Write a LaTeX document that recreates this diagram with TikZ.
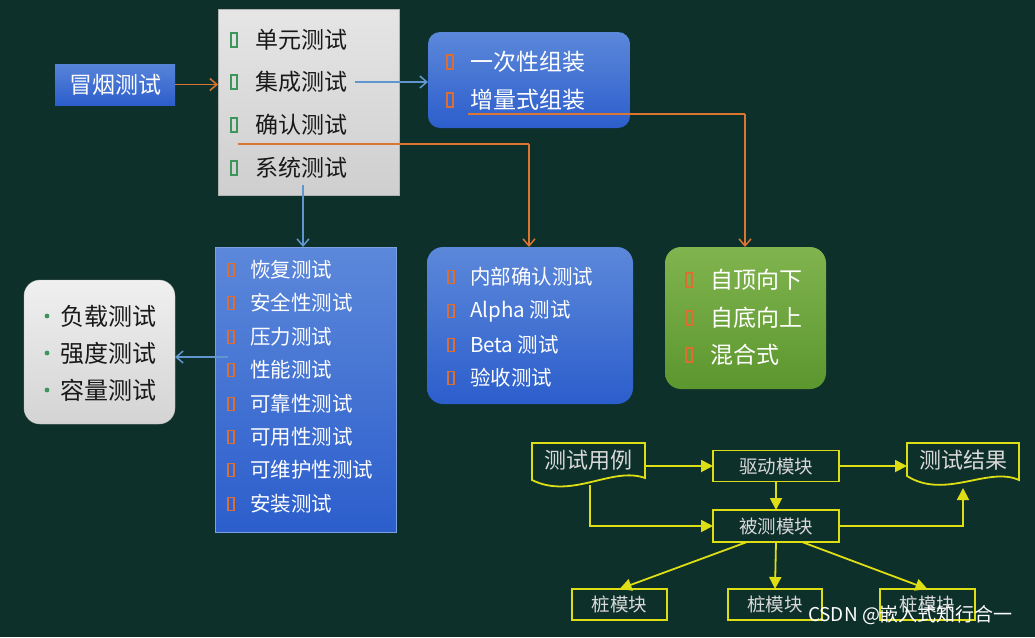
\documentclass[tikz,border=0pt]{standalone}
\usepackage{fontspec}
\newfontfamily\cjk{Noto Sans CJK SC}
\usetikzlibrary{arrows.meta}
\definecolor{bg}{RGB}{14,48,42}
\definecolor{oline}{RGB}{218,118,48}
\definecolor{bline}{RGB}{96,150,205}
\definecolor{yl}{RGB}{222,222,20}
\definecolor{btop}{RGB}{92,136,218}
\definecolor{bbot}{RGB}{44,94,204}
\definecolor{gtop}{RGB}{128,180,78}
\definecolor{gbot}{RGB}{92,150,46}
\definecolor{bultg}{RGB}{60,150,90}
\definecolor{bulto}{RGB}{220,110,50}
\tikzset{
  base/.style={inner sep=0pt, outer sep=0pt},
  item/.style={base, anchor=west, font=\cjk\fontsize{23}{27}\selectfont},
  sitem/.style={base, anchor=west, font=\cjk\fontsize{20.5}{24}\selectfont, text=white},
  oarrow/.style={draw=oline, line width=1.5pt, -{Straight Barb[length=7pt,width=12pt,line width=1.5pt]}},
  barrow/.style={draw=bline, line width=1.5pt, -{Straight Barb[length=7pt,width=12pt,line width=1.5pt]}},
  oplain/.style={draw=oline, line width=1.5pt},
  yarrow/.style={draw=yl, line width=1.8pt, -{Triangle[length=12pt,width=12pt]}},
  ybox/.style={base, draw=yl, line width=1.8pt, fill=bg, text=black!15, font=\cjk\fontsize{18.5}{22}\selectfont},
  ytext/.style={base, text=black!15, font=\cjk\fontsize{22}{26}\selectfont},
  gbul/.style={draw=bultg, line width=1.6pt},
  obul/.style={draw=bulto, line width=1.6pt},
}
\begin{document}
\begin{tikzpicture}[x=1pt,y=-1pt]
\fill[bg] (0,0) rectangle (1035,637);
\useasboundingbox (0,0) rectangle (1035,637);

% smoke test
\node[base, top color=btop!90!bbot, bottom color=bbot, minimum width=120pt, minimum height=41pt, text=white, font=\cjk\fontsize{23}{27}\selectfont] (smoke) at (115,84.5) {冒烟测试};

% gray box
\node[base, draw=black!30, top color=black!10, bottom color=black!19, minimum width=181pt, minimum height=186pt] (gray) at (308.5,102) {};
\node[item, text=black!90] (g1) at (255,40) {单元测试};
\node[item, text=black!90] (g2) at (255,82) {集成测试};
\node[item, text=black!90] (g3) at (255,125) {确认测试};
\node[item, text=black!90] (g4) at (255,168) {系统测试};
\foreach \y in {40,82,125,168} {\draw[gbul] (231,\y-7) rectangle (237,\y+7);}

% blue box 1
\node[base, rounded corners=12pt, top color=btop, bottom color=bbot, minimum width=202pt, minimum height=96pt] (b1) at (529,80) {};
\node[item, text=white] (b1a) at (470,62) {一次性组装};
\node[item, text=white] (b1b) at (470,100) {增量式组装};
\foreach \y in {62,100} {\draw[obul] (447,\y-7) rectangle (453,\y+7);}

% blue list box
\node[base, draw=btop!80!white, top color=btop, bottom color=bbot, minimum width=181pt, minimum height=285pt] (bl) at (305.5,389.5) {};
\foreach \t/\y/\n in {恢复测试/270/1,安全性测试/303/2,压力测试/337/3,性能测试/370/4,可靠性测试/404/5,可用性测试/437/6,可维护性测试/470/7,安装测试/504/8}{
  \node[sitem] (l\n) at (250,\y) {\t};
  \draw[obul] (228,\y-6.5) rectangle (234,\y+6.5);
}

% gray rounded box
\node[base, draw=black!25, rounded corners=16pt, top color=black!6, bottom color=black!17, minimum width=151pt, minimum height=144pt] (gr) at (99.5,352) {};
\node[item, text=black!90, font=\cjk\fontsize{24}{28}\selectfont] (r1) at (60,316) {负载测试};
\node[item, text=black!90, font=\cjk\fontsize{24}{28}\selectfont] (r2) at (60,353) {强度测试};
\node[item, text=black!90, font=\cjk\fontsize{24}{28}\selectfont] (r3) at (60,390) {容量测试};
\foreach \y in {316,353,390} {\fill[bultg] (47,\y) circle (2.4);}

% blue box 2
\node[base, rounded corners=16pt, top color=btop, bottom color=bbot, minimum width=206pt, minimum height=157pt] (b2) at (530,325.5) {};
\foreach \t/\y/\n in {内部确认测试/277/1,Alpha 测试/311/2,Beta 测试/345/3,验收测试/378/4}{
  \node[sitem] (c\n) at (470,\y) {\t};
  \draw[obul] (448,\y-6.5) rectangle (454,\y+6.5);
}

% green box
\node[base, rounded corners=16pt, top color=gtop, bottom color=gbot, minimum width=161pt, minimum height=142pt] (gb) at (745.5,318) {};
\node[item, text=white] (e1) at (710,280) {自顶向下};
\node[item, text=white] (e2) at (710,318) {自底向上};
\node[item, text=white] (e3) at (710,355) {混合式};
\foreach \y in {280,318,355} {\draw[obul] (686,\y-7) rectangle (692,\y+7);}

% connectors (top part)
\draw[oarrow] (smoke.east) -- (gray.west |- smoke.east);
\coordinate (g2e) at (355,82);
\draw[barrow] (g2e) -- (b1.west |- g2e);
\coordinate (b1u) at (468,114);
\draw[oplain] (b1u) -- (745,114);
\draw[oarrow] (745,114) -- (gb.north -| 745,0);
\coordinate (g3u) at (238,144);
\draw[oplain] (g3u) -- (529,144);
\draw[oarrow] (529,144) -- (b2.north -| 529,0);
\coordinate (g4d) at (303,185);
\draw[barrow] (g4d) -- (bl.north -| g4d);
\coordinate (l4w) at (228,357);
\draw[barrow] (l4w) -- (gr.east |- l4w);

% bottom diagram
\draw[draw=yl, line width=1.8pt, fill=bg] (532,443) -- (645,443) -- (645,478) .. controls (612,466) and (572,500) .. (532,480) -- cycle;
\node[ytext] (tc) at (588.5,460) {测试用例};
\draw[draw=yl, line width=1.8pt, fill=bg] (907,443) -- (1019,443) -- (1019,480) .. controls (988,466) and (945,500) .. (907,476) -- cycle;
\node[ytext] (tr) at (963,460) {测试结果};
\node[ybox, minimum width=126pt, minimum height=31pt] (dr) at (776,466) {驱动模块};
\node[ybox, minimum width=126pt, minimum height=32pt] (bc) at (776,526) {被测模块};
\node[ybox, minimum width=95pt, minimum height=31pt] (z1) at (619.5,604.5) {桩模块};
\node[ybox, minimum width=94pt, minimum height=31pt] (z2) at (775,604.5) {桩模块};
\node[ybox, minimum width=95pt, minimum height=31pt] (z3) at (927.5,604.5) {桩模块};

\coordinate (tce) at (645,466);
\coordinate (tcb) at (590,485);
\coordinate (trb) at (963,488);
\draw[yarrow] (tce) -- (dr.west |- tce);
\draw[yarrow] (dr.east) -- (907,466);
\draw[yarrow] (dr.south) -- (bc.north);
\draw[yarrow] (tcb) -- (590,526) -- (bc.west);
\draw[yarrow] (bc.east) -- (963,526) -- (trb);
\draw[yarrow] ([xshift=-29pt]bc.south) -- (z1.north);
\draw[yarrow] (bc.south) -- (z2.north);
\draw[yarrow] ([xshift=26pt]bc.south) -- (z3.north);

% watermark
\node[base, anchor=west, text=white, font=\cjk\fontsize{19}{22}\selectfont] (wm) at (808,615) {CSDN @嵌入式知行合一};
\end{tikzpicture}
\end{document}
